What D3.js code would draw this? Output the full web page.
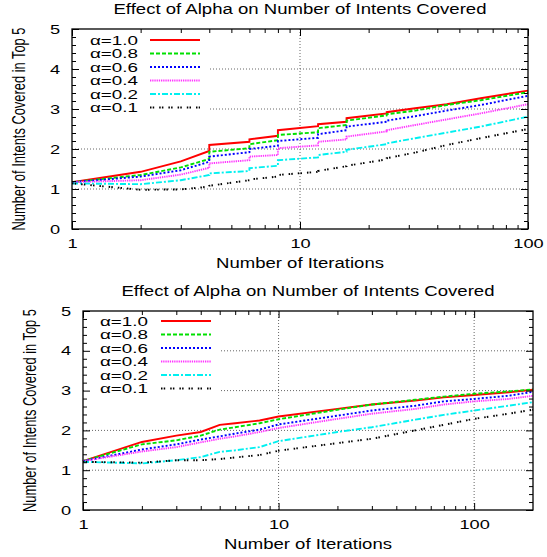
<!DOCTYPE html>
<html>
<head>
<meta charset="utf-8">
<script src="https://cdn.jsdelivr.net/npm/d3@7"></script>
<style>
  body { margin: 0; background: #fff; }
  svg { display: block; font-family: "Liberation Sans", Arial, sans-serif; }
</style>
</head>
<body>
<svg id="chart" width="547" height="557"></svg>
<script>
// ---- data ----
const alphaLabels = ['\u03b1=1.0', '\u03b1=0.8', '\u03b1=0.6', '\u03b1=0.4', '\u03b1=0.2', '\u03b1=0.1'];
const yTicks = [0, 1, 2, 3, 4, 5];
const xTicks = [1, 10, 100];

// upper plot: 1..100 iterations (repeated x = step)
const topIters = [1, 2, 3, 4, 4, 6, 6, 8, 8, 12, 12, 16, 16, 24, 24, 32, 44, 62, 100];
const topA10 = [1.17, 1.43, 1.69, 1.95, 2.10, 2.18, 2.24, 2.33, 2.47, 2.57, 2.62, 2.68, 2.77, 2.89, 2.92, 3.02, 3.12, 3.27, 3.46];
const topA08 = [1.17, 1.35, 1.54, 1.75, 1.93, 2.02, 2.12, 2.22, 2.35, 2.42, 2.52, 2.60, 2.71, 2.84, 2.87, 2.96, 3.10, 3.22, 3.42];
const topA06 = [1.17, 1.31, 1.47, 1.68, 1.81, 1.92, 2.00, 2.08, 2.20, 2.28, 2.37, 2.47, 2.56, 2.68, 2.71, 2.82, 2.96, 3.10, 3.33];
const topA04 = [1.17, 1.22, 1.36, 1.53, 1.64, 1.72, 1.81, 1.85, 2.02, 2.09, 2.18, 2.24, 2.31, 2.44, 2.47, 2.60, 2.74, 2.89, 3.12];
const topA02 = [1.14, 1.12, 1.22, 1.35, 1.39, 1.45, 1.52, 1.58, 1.72, 1.79, 1.85, 1.93, 1.98, 2.12, 2.14, 2.27, 2.41, 2.56, 2.81];
const topA01 = [1.14, 0.98, 0.99, 1.06, 1.08, 1.22, 1.24, 1.31, 1.35, 1.43, 1.45, 1.57, 1.58, 1.74, 1.77, 1.91, 2.10, 2.27, 2.50];

// lower plot: 1..200 iterations
const botIters = [1, 2, 3, 4, 5, 6, 8, 10, 20, 30, 50, 70, 100, 150, 200];
const botA10 = [1.23, 1.71, 1.87, 1.96, 2.14, 2.18, 2.25, 2.35, 2.54, 2.65, 2.75, 2.83, 2.89, 2.96, 3.02];
const botA08 = [1.23, 1.65, 1.75, 1.87, 2.02, 2.08, 2.18, 2.28, 2.52, 2.65, 2.77, 2.85, 2.92, 2.98, 3.03];
const botA06 = [1.23, 1.52, 1.65, 1.77, 1.85, 1.92, 2.02, 2.15, 2.37, 2.50, 2.62, 2.73, 2.79, 2.87, 2.97];
const botA04 = [1.23, 1.47, 1.58, 1.70, 1.79, 1.85, 1.96, 2.06, 2.29, 2.42, 2.54, 2.65, 2.73, 2.79, 2.87];
const botA02 = [1.21, 1.17, 1.25, 1.33, 1.46, 1.50, 1.58, 1.73, 1.96, 2.08, 2.27, 2.39, 2.50, 2.62, 2.71];
const botA01 = [1.21, 1.19, 1.25, 1.25, 1.28, 1.32, 1.38, 1.49, 1.68, 1.79, 2.00, 2.14, 2.29, 2.42, 2.52];

// gnuplot-ish line types
const lineStyles = [
  { color: '#ff0000', dash: null },
  { color: '#00e000', dash: '4,2' },
  { color: '#0000ff', dash: '2,2' },
  { color: '#ff33ff', dash: '1.3,0.9' },
  { color: '#00f0f0', dash: '6,2,2,2' },
  { color: '#000000', dash: '1.5,1.2,1.5,5' }
];

const svg = d3.select('#chart');

const stretch = (sel, k) => sel.each(function () {
  const w = this.getComputedTextLength();
  d3.select(this).attr('textLength', w * k).attr('lengthAdjust', 'spacingAndGlyphs');
});

function drawPanel(p) {
  const g = svg.append('g');
  const x = d3.scaleLog().domain([1, p.xMax]).range([p.left, p.right]);
  const y = d3.scaleLinear().domain([0, 5]).range([p.bottom, p.top]);

  const xMinor = x.ticks().filter(v => xTicks.indexOf(v) < 0 && v > 1 && v < p.xMax);
  const yMinor = d3.range(1, 25).map(v => v / 5).filter(v => v % 1 !== 0);

  // grid (dotted)
  const grid = g.append('g');
  grid.append('g').selectAll('line')
    .data(yTicks.filter(v => v > 0 && v < 5))
    .join('line')
    .attr('x1', p.left).attr('x2', p.right)
    .attr('y1', d => y(d)).attr('y2', d => y(d));
  grid.append('g').selectAll('line')
    .data(xTicks.filter(v => v > 1 && v < p.xMax))
    .join('line')
    .attr('x1', d => x(d)).attr('x2', d => x(d))
    .attr('y1', p.top).attr('y2', p.bottom);
  grid.selectAll('line')
    .attr('stroke', '#555').attr('stroke-width', 0.9).attr('stroke-dasharray', '1,2');

  // key box hides the grid
  g.append('rect')
    .attr('x', p.left + 1).attr('y', p.top + 1)
    .attr('width', 137).attr('height', 85)
    .attr('fill', '#fff');

  // curves
  const line = d3.line()
    .x((d, i) => x(p.iters[i]))
    .y(d => y(d));
  p.series.forEach((vals, k) => {
    g.append('path')
      .attr('d', line(vals))
      .attr('fill', 'none')
      .attr('stroke', lineStyles[k].color)
      .attr('stroke-width', 1.9)
      .attr('stroke-dasharray', lineStyles[k].dash);
  });

  // axes, ticks pointing inward on all four sides
  const ax = (gen, tx, ty) => g.append('g')
    .attr('transform', `translate(${tx},${ty})`)
    .call(gen)
    .call(s => s.select('.domain').remove());

  const left = ax(d3.axisLeft(y).tickValues(yTicks).tickFormat(d3.format('d'))
    .tickSizeInner(-7).tickSizeOuter(0).tickPadding(12), p.left, 0);
  ax(d3.axisLeft(y).tickValues(yMinor).tickSizeInner(-4).tickSizeOuter(0).tickFormat(''), p.left, 0);
  ax(d3.axisRight(y).tickValues(yTicks).tickSizeInner(-7).tickSizeOuter(0).tickFormat(''), p.right, 0);
  ax(d3.axisRight(y).tickValues(yMinor).tickSizeInner(-4).tickSizeOuter(0).tickFormat(''), p.right, 0);

  const bottom = ax(d3.axisBottom(x).tickValues(xTicks).tickFormat(d3.format('d'))
    .tickSizeInner(-7).tickSizeOuter(0).tickPadding(10), 0, p.bottom);
  ax(d3.axisBottom(x).tickValues(xMinor).tickSizeInner(-4).tickSizeOuter(0).tickFormat(''), 0, p.bottom);
  ax(d3.axisTop(x).tickValues(xTicks).tickSizeInner(-7).tickSizeOuter(0).tickFormat(''), 0, p.top);
  ax(d3.axisTop(x).tickValues(xMinor).tickSizeInner(-4).tickSizeOuter(0).tickFormat(''), 0, p.top);

  g.selectAll('.tick line').attr('stroke', '#000').attr('stroke-width', 1);
  [left, bottom].forEach(a => {
    a.selectAll('text')
      .attr('fill', '#000')
      .style('font-family', '"Liberation Sans", Arial, sans-serif')
      .style('font-size', '13px')
      .call(stretch, 1.4);
  });

  // border
  g.append('rect')
    .attr('x', p.left).attr('y', p.top)
    .attr('width', p.right - p.left).attr('height', p.bottom - p.top)
    .attr('fill', 'none').attr('stroke', '#000').attr('stroke-width', 1.3);

  // key
  alphaLabels.forEach((lab, k) => {
    const ry = p.top + p.keyTop + k * 13.5;
    g.append('text')
      .attr('x', p.left + p.keyTextRight).attr('y', ry + 4.7)
      .attr('text-anchor', 'end')
      .style('font-size', '13px')
      .attr('textLength', 48).attr('lengthAdjust', 'spacingAndGlyphs')
      .text(lab);
    g.append('line')
      .attr('x1', p.left + 78).attr('x2', p.left + 128)
      .attr('y1', ry).attr('y2', ry)
      .attr('stroke', lineStyles[k].color)
      .attr('stroke-width', 1.9)
      .attr('stroke-dasharray', lineStyles[k].dash);
  });

  // titles
  const cx = (p.left + p.right) / 2;
  g.append('text')
    .attr('x', cx).attr('y', p.top - 15)
    .attr('text-anchor', 'middle')
    .style('font-size', '14px')
    .attr('textLength', 373).attr('lengthAdjust', 'spacingAndGlyphs')
    .text('Effect of Alpha on Number of Intents Covered');
  g.append('text')
    .attr('x', cx).attr('y', p.bottom + 38.5)
    .attr('text-anchor', 'middle')
    .style('font-size', '14px')
    .attr('textLength', 168).attr('lengthAdjust', 'spacingAndGlyphs')
    .text('Number of Iterations');
  g.append('text')
    .attr('transform', `translate(${p.yLabelX},${(p.top + p.bottom) / 2}) scale(1.3,1) rotate(-90)`)
    .attr('text-anchor', 'middle')
    .attr('dy', '0.35em')
    .style('font-size', '13.5px')
    .attr('textLength', 203).attr('lengthAdjust', 'spacingAndGlyphs')
    .text('Number of Intents Covered in Top 5');
}

drawPanel({
  left: 72, right: 528, top: 29, bottom: 229, xMax: 100,
  iters: topIters,
  series: [topA10, topA08, topA06, topA04, topA02, topA01],
  keyTop: 11, keyTextRight: 66, yLabelX: 19
});

drawPanel({
  left: 83, right: 533, top: 311, bottom: 510, xMax: 200,
  iters: botIters,
  series: [botA10, botA08, botA06, botA04, botA02, botA01],
  keyTop: 10, keyTextRight: 65, yLabelX: 29.5
});
</script>
</body>
</html>
